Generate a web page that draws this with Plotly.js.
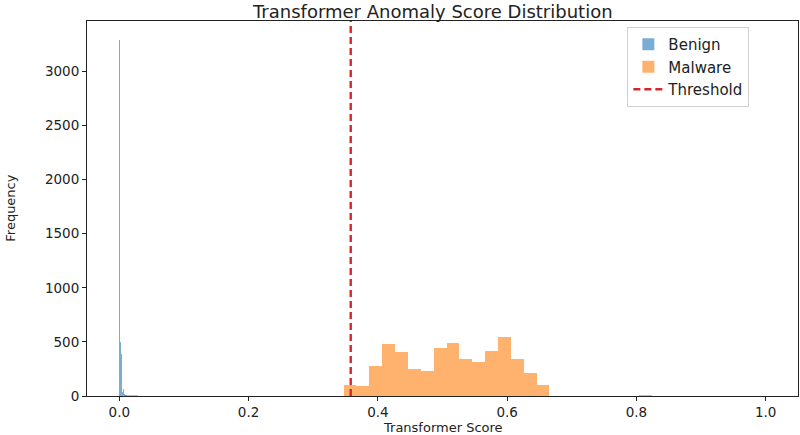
<!DOCTYPE html>
<html>
<head>
<meta charset="utf-8">
<script src="https://cdn.plot.ly/plotly-3.0.1.min.js"></script>
<style>
  html, body { margin: 0; padding: 0; background: #fff; }
  #chart { width: 800px; height: 435px; }
</style>
</head>
<body>
<div id="chart"></div>
<script>
// ── Transformer anomaly score histogram ─────────────────────────────

// Benign: 50 bins over [0, 0.075]
const benignBinStart = 0.0;
const benignBinWidth = 0.0015;
const benignCounts = [
    3290, 495, 385, 40, 65, 18, 10, 6, 4, 3,
    2, 2, 1, 1, 1, 0, 1, 0, 0, 1,
    0, 0, 0, 0, 0, 0, 0, 0, 0, 0,
    0, 0, 0, 0, 0, 0, 0, 0, 0, 0,
    0, 0, 0, 0, 0, 0, 0, 0, 0, 1
];

// Malware: 50 bins over [0.0087, 1.0]
const malwareBinStart = 0.0087;
const malwareBinWidth = 0.0199;
const malwareCounts = [
    8, 4, 0, 0, 0, 0, 0, 0, 0, 0,
    0, 0, 0, 0, 0, 0, 0, 101, 92, 279,
    479, 402, 249, 233, 445, 494, 341, 316, 417, 546,
    341, 215, 101, 0, 0, 0, 0, 0, 0, 0,
    5, 0, 0, 0, 0, 0, 0, 0, 0, 0
];

const threshold = 0.358;
const yTop = 3465;

const xTickVals = [0, 0.2, 0.4, 0.6, 0.8, 1.0];
const yTickVals = [0, 500, 1000, 1500, 2000, 2500, 3000];

const FONT = 'DejaVu Sans, sans-serif';

const centers = (start, w, n) => Array.from({ length: n }, (_, i) => start + (i + 0.5) * w);

const traces = [
    {
        type: 'bar', name: 'Benign',
        x: centers(benignBinStart, benignBinWidth, benignCounts.length),
        y: benignCounts,
        width: benignBinWidth,
        marker: { color: 'rgba(31,119,180,0.6)', line: { width: 0 } },
    },
    {
        type: 'bar', name: 'Malware',
        x: centers(malwareBinStart, malwareBinWidth, malwareCounts.length),
        y: malwareCounts,
        width: malwareBinWidth,
        marker: { color: 'rgba(255,127,14,0.6)', line: { width: 0 } },
    },
    {
        type: 'scatter', mode: 'lines', name: 'Threshold',
        x: [threshold, threshold],
        y: [0, yTop],
        line: { color: '#d62728', width: 2.4, dash: '7px,4px' },
    },
];

const axisBase = {
    showline: true, mirror: true, linecolor: '#222', linewidth: 1,
    ticks: 'outside', ticklen: 4, tickcolor: '#222', tickwidth: 1,
    showgrid: false, zeroline: false,
    tickfont: { family: FONT, size: 13.5, color: '#222' },
};

const layout = {
    width: 800, height: 435,
    margin: { t: 21, r: 2, b: 39, l: 87 },
    paper_bgcolor: '#fff', plot_bgcolor: '#fff',
    barmode: 'overlay', bargap: 0,
    title: {
        text: 'Transformer Anomaly Score Distribution',
        font: { family: FONT, size: 18, color: '#222' },
        x: 0.541, xanchor: 'center', y: 0.974, yanchor: 'middle',
    },
    xaxis: Object.assign({}, axisBase, {
        range: [-0.05, 1.05],
        tickvals: xTickVals, tickformat: '.1f',
    }),
    yaxis: Object.assign({}, axisBase, {
        range: [0, yTop],
        tickvals: yTickVals,
    }),
    legend: {
        x: 0.76, y: 0.984, xanchor: 'left', yanchor: 'top',
        bgcolor: '#fff', bordercolor: '#d0d0d0', borderwidth: 1,
        font: { family: FONT, size: 15, color: '#222' },
        tracegroupgap: 0,
    },
    annotations: [
        {
            text: 'Transformer Score', xref: 'paper', yref: 'paper',
            x: 0.5, y: -0.083, xanchor: 'center', yanchor: 'middle',
            showarrow: false, font: { family: FONT, size: 13, color: '#222' },
        },
        {
            text: 'Frequency', xref: 'paper', yref: 'paper',
            x: -0.108, y: 0.5, xanchor: 'center', yanchor: 'middle', textangle: -90,
            showarrow: false, font: { family: FONT, size: 13, color: '#222' },
        },
    ],
};

Plotly.newPlot('chart', traces, layout, { displayModeBar: false, staticPlot: true });
</script>
</body>
</html>
